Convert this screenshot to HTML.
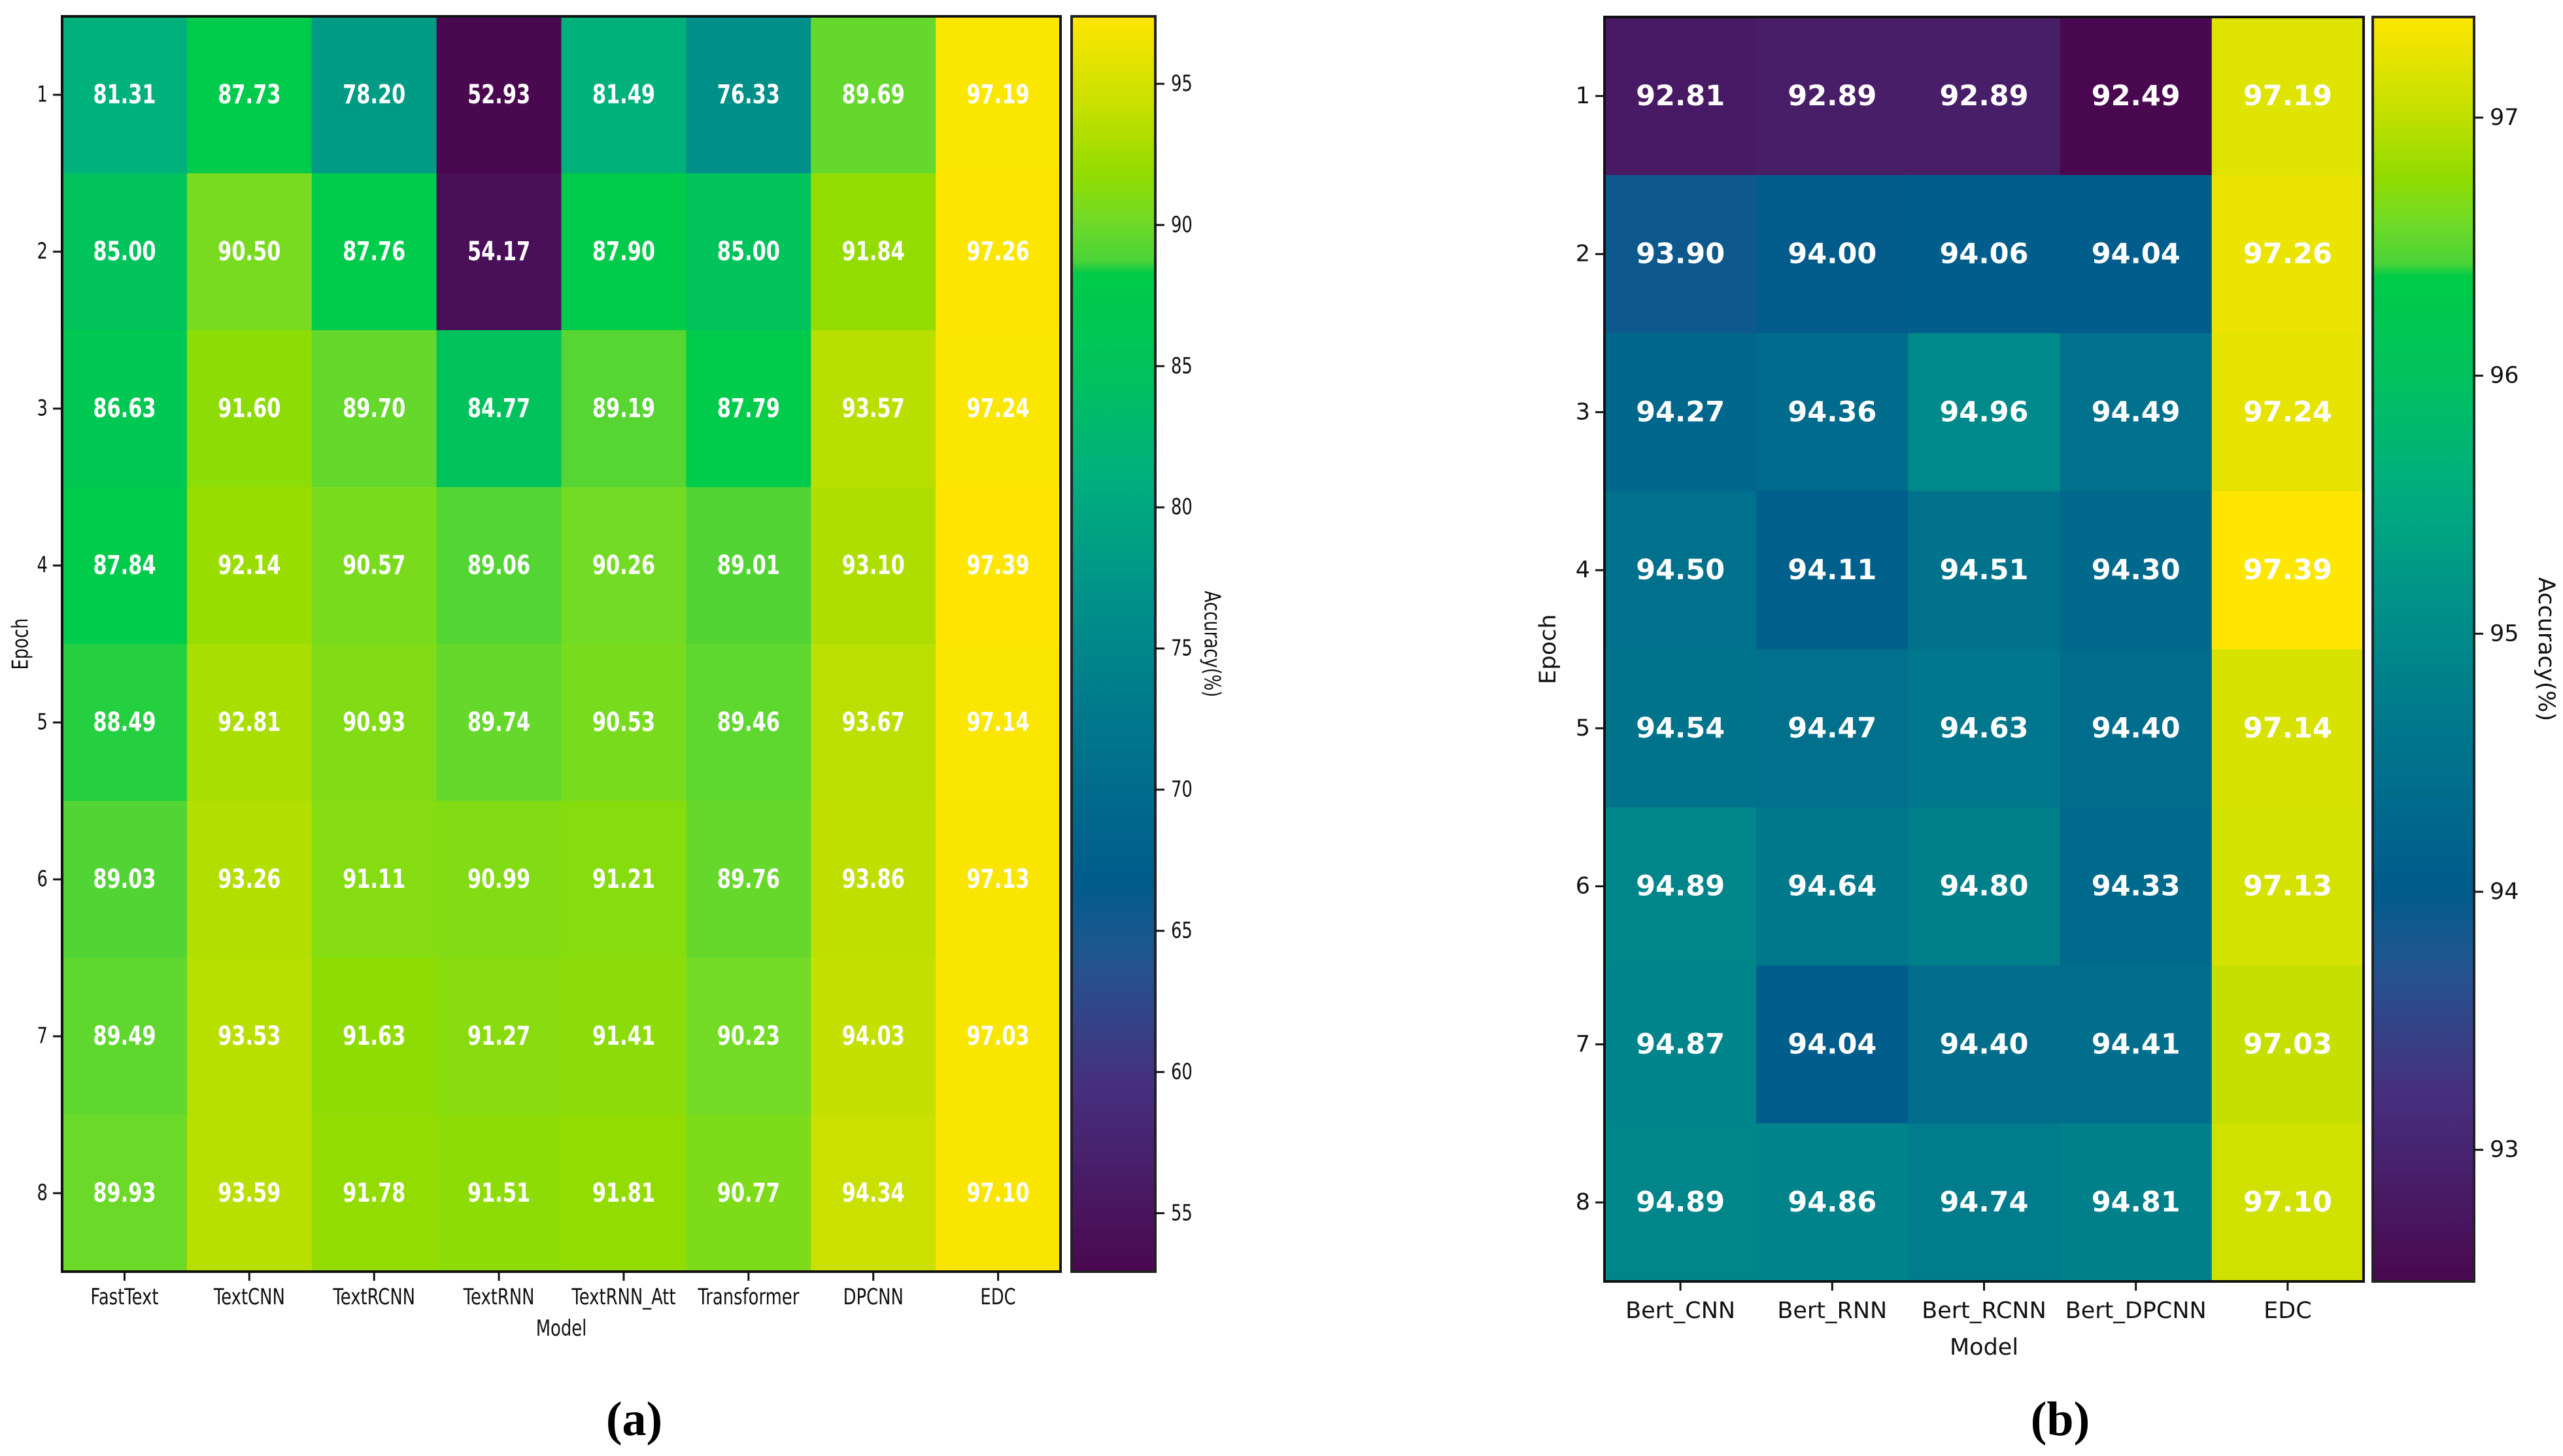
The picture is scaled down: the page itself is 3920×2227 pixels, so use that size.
<!DOCTYPE html>
<html><head><meta charset="utf-8"><style>
html,body{margin:0;padding:0;background:#fff;}
svg{display:block;}
text{font-family:"DejaVu Sans","Liberation Sans",sans-serif;}
</style></head><body>
<svg id="fig" width="3920" height="2227" viewBox="0 0 3920 2227" xmlns="http://www.w3.org/2000/svg">
<defs>
<linearGradient id="cbgrad" x1="0" y1="1" x2="0" y2="0">
<stop offset="0" stop-color="#4a0850"/><stop offset="0.15" stop-color="#46307e"/><stop offset="0.25" stop-color="#22558f"/><stop offset="0.31" stop-color="#005c8c"/><stop offset="0.45" stop-color="#007a8c"/><stop offset="0.55" stop-color="#009588"/><stop offset="0.636" stop-color="#00b07c"/><stop offset="0.72" stop-color="#00c35c"/><stop offset="0.795" stop-color="#00cc48"/><stop offset="0.805" stop-color="#4ad338"/><stop offset="0.84" stop-color="#74db24"/><stop offset="0.875" stop-color="#93dc00"/><stop offset="0.93" stop-color="#c8e000"/><stop offset="1" stop-color="#fee600"/>
</linearGradient>
</defs>
</svg>
<script>
const epochs = ["1","2","3","4","5","6","7","8"];
const modelsA = ["FastText","TextCNN","TextRCNN","TextRNN","TextRNN_Att","Transformer","DPCNN","EDC"];
const valuesA = [
[81.31,87.73,78.20,52.93,81.49,76.33,89.69,97.19],
[85.00,90.50,87.76,54.17,87.90,85.00,91.84,97.26],
[86.63,91.60,89.70,84.77,89.19,87.79,93.57,97.24],
[87.84,92.14,90.57,89.06,90.26,89.01,93.10,97.39],
[88.49,92.81,90.93,89.74,90.53,89.46,93.67,97.14],
[89.03,93.26,91.11,90.99,91.21,89.76,93.86,97.13],
[89.49,93.53,91.63,91.27,91.41,90.23,94.03,97.03],
[89.93,93.59,91.78,91.51,91.81,90.77,94.34,97.10]];
const ticksA = [55,60,65,70,75,80,85,90,95];
const modelsB = ["Bert_CNN","Bert_RNN","Bert_RCNN","Bert_DPCNN","EDC"];
const valuesB = [
[92.81,92.89,92.89,92.49,97.19],
[93.90,94.00,94.06,94.04,97.26],
[94.27,94.36,94.96,94.49,97.24],
[94.50,94.11,94.51,94.30,97.39],
[94.54,94.47,94.63,94.40,97.14],
[94.89,94.64,94.80,94.33,97.13],
[94.87,94.04,94.40,94.41,97.03],
[94.89,94.86,94.74,94.81,97.10]];
const ticksB = [93,94,95,96,97];

const stops=[[0,"#4a0850"],[0.15,"#46307e"],[0.25,"#22558f"],[0.31,"#005c8c"],[0.45,"#007a8c"],[0.55,"#009588"],[0.636,"#00b07c"],[0.72,"#00c35c"],[0.795,"#00cc48"],[0.805,"#4ad338"],[0.84,"#74db24"],[0.875,"#93dc00"],[0.93,"#c8e000"],[1,"#fee600"]];
function hex(h){return [1,3,5].map(i=>parseInt(h.substr(i,2),16));}
function cmap(t){t=Math.max(0,Math.min(1,t));for(let i=1;i<stops.length;i++){if(t<=stops[i][0]){const a=stops[i-1],b=stops[i];const f=(t-a[0])/(b[0]-a[0]);const ca=hex(a[1]),cb=hex(b[1]);return "rgb("+ca.map((v,k)=>Math.round(v+(cb[k]-v)*f)).join(",")+")";}}return stops[stops.length-1][1];}
const NS="http://www.w3.org/2000/svg";
const svg=document.getElementById('fig');
function el(tag,attrs,parent,txt){const e=document.createElementNS(NS,tag);for(const k in attrs)e.setAttribute(k,attrs[k]);if(txt!==undefined)e.textContent=txt;(parent||svg).appendChild(e);return e;}
function txt(x,y,s,size,opts,parent){const g=el('g',{transform:`translate(${x},${y}) ${opts.rot?'rotate('+opts.rot+')':''} scale(${opts.sx||1},1)`},parent);const t=el('text',{x:0,y:0,'font-size':size,'text-anchor':opts.anchor||'middle','dominant-baseline':opts.base||'auto',fill:opts.fill||'#111','font-weight':opts.bold?'bold':'normal'},g,s);if(opts.family)t.style.fontFamily=opts.family;return t;}

function heatmap(cfg){
 const {x0,x1,y0,y1,cats,vals,vmin,vmax,ticks,cb,sx,cellFont,tickFont,name}=cfg;
 const grp=el('g',{});
 
 
 const nc=cats.length,nr=epochs.length;
 const xs=c=>x0+(x1-x0)*c/nc, ys=r=>y0+(y1-y0)*r/nr;
 const cw=(x1-x0)/nc, rh=(y1-y0)/nr;
 for(let r=0;r<nr;r++)for(let c=0;c<nc;c++){
  const v=vals[r][c];
  const rc=el('rect',{x:xs(c),y:ys(r),width:cw+0.6,height:rh+0.6,fill:cmap((v-vmin)/(vmax-vmin))},grp);
  
  
  const t=txt(xs(c)+cw/2,ys(r)+rh/2,v.toFixed(2),cellFont,{sx:sx,bold:true,fill:'#fff',base:'central'},grp);
  
  
 }
 el('rect',{x:x0,y:y0,width:x1-x0,height:y1-y0,fill:'none',stroke:'#111','stroke-width':4},grp);
 for(let r=0;r<nr;r++){const y=ys(r)+rh/2;el('line',{x1:x0-14,x2:x0,y1:y,y2:y,stroke:'#111','stroke-width':3},grp);
  const t=txt(x0-22,y,epochs[r],tickFont,{sx:sx,anchor:'end',base:'central'},grp);
  
  }
 for(let c=0;c<nc;c++){const x=xs(c)+cw/2;el('line',{x1:x,x2:x,y1:y1,y2:y1+14,stroke:'#111','stroke-width':3},grp);
  const t=txt(x,cfg.xlabY,cats[c],tickFont,{sx:sx},grp);
  
  }
 const xt=txt((x0+x1)/2,cfg.modelY,'Model',tickFont,{sx:sx},grp);
 
 
 const yt=txt(cfg.epochX,(y0+y1)/2,'Epoch',tickFont,{sx:sx,rot:-90,base:'central'},grp);
 
 
 const cbr=el('rect',{x:cb[0],y:y0,width:cb[1]-cb[0],height:y1-y0,fill:'url(#cbgrad)',stroke:'#222','stroke-width':4},grp);
 
 
 const cy=v=>y1-(y1-y0)*(v-vmin)/(vmax-vmin);
 ticks.forEach(v=>{const y=cy(v);el('line',{x1:cb[1],x2:cb[1]+14,y1:y,y2:y,stroke:'#111','stroke-width':3},grp);
  const t=txt(cb[1]+24,y,String(v),tickFont,{sx:sx,anchor:'start',base:'central'},grp);
  
  });
 const at=txt(cfg.accX,(y0+y1)/2,'Accuracy(%)',tickFont,{sx:sx,rot:90,base:'central'},grp);
 
 
}
heatmap({name:'heatmap-a',x0:95,x1:1622,y0:25,y1:1945,cats:modelsA,vals:valuesA,vmin:52.93,vmax:97.39,ticks:ticksA,cb:[1639,1767],sx:0.76,cellFont:40,tickFont:34,xlabY:1995,modelY:2043,epochX:32,accX:1853});
heatmap({name:'heatmap-b',x0:2454,x1:3615,y0:26,y1:1960,cats:modelsB,vals:valuesB,vmin:92.49,vmax:97.39,ticks:ticksB,cb:[3629,3784],sx:1,cellFont:43,tickFont:35,xlabY:2016,modelY:2072,epochX:2368,accX:3894});
const la=txt(970,2195,'(a)',74,{family:'"Liberation Serif",serif',bold:true,fill:'#000'});


const lb=txt(3151,2195,'(b)',74,{family:'"Liberation Serif",serif',bold:true,fill:'#000'});


</script>
</body></html>
